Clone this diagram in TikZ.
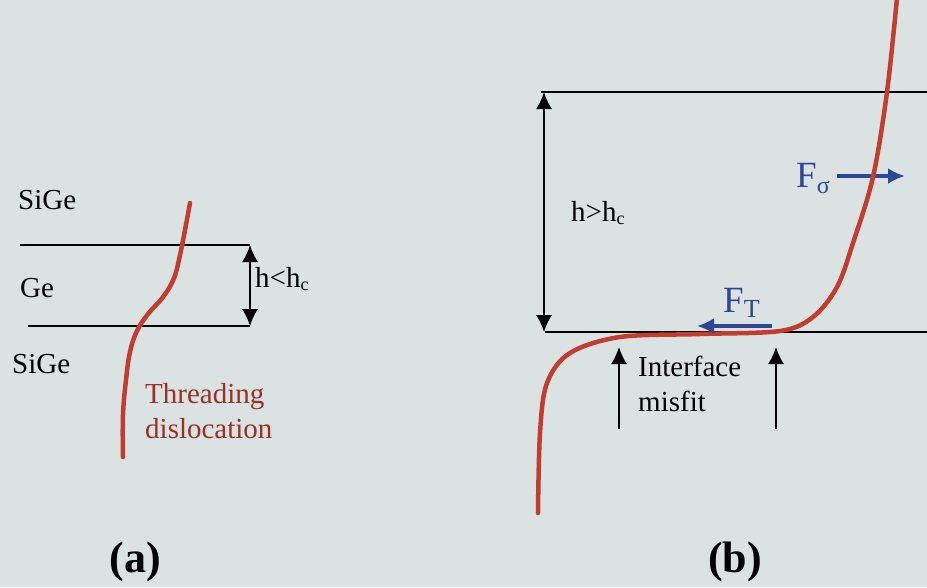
\documentclass[tikz,border=0pt]{standalone}
\usepackage{fontspec}
\setmainfont{Liberation Serif}
\usetikzlibrary{arrows.meta,positioning,calc}
\definecolor{paper}{RGB}{218,226,226}
\definecolor{disloc}{RGB}{194,60,48}
\definecolor{force}{RGB}{46,70,150}
% subscript: size, drop, text
\newcommand{\lowsub}[3]{\raisebox{-#2pt}{\fontsize{#1}{#1}\selectfont #3}}

\begin{document}
\begin{tikzpicture}[x=1pt, y=-1pt,
    lbl/.style={font=\fontsize{29}{35}\selectfont, inner sep=0pt, align=left},
    flbl/.style={font=\fontsize{37}{40}\selectfont, inner sep=0pt, text=force},
    tag/.style={font=\fontsize{44}{48}\selectfont\bfseries, inner sep=0pt},
    layer/.style={line width=1.8pt},
    dim/.style={{Latex[length=17pt,width=16pt]}-{Latex[length=17pt,width=16pt]}, line width=1.8pt},
    uparrow/.style={-{Latex[length=17pt,width=16pt]}, line width=1.8pt},
    fpush/.style={-{Latex[length=17pt,width=16pt]}, line width=4.5pt, force},
    thread/.style={line width=4.5pt, disloc, line cap=round}
]
    \fill[paper] (0,0) rectangle (927,587);
    \useasboundingbox (0,0) rectangle (927,587);

    % (a) thin Ge layer
    \coordinate (atl) at (20,245);
    \coordinate (atr) at (250,245);
    \coordinate (abl) at (28,326);
    \coordinate (abr) at (250,326);
    \draw[layer] (atl) -- (atr);
    \draw[layer] (abl) -- (abr);
    \draw[dim] (atr) -- (abr);
    \node[lbl, anchor=base west] (sigetop) at (18,209) {SiGe};
    \node[lbl, anchor=base west] (ge) at (20,297) {Ge};
    \node[lbl, anchor=base west] (sigebot) at (12,373) {SiGe};
    \node[lbl, anchor=base west] (hless) at (255,287) {h<h\lowsub{18}{3}{c}};
    \draw[thread] plot[smooth, tension=0.7] coordinates {(190,203) (185,230) (180,255) (174,278) (163,297) (148,314) (137,331) (130,352) (126,380) (123,415) (123,457)};
    \node[lbl, anchor=north west, text=disloc!80!black] (thrd) at (145,383) {Threading\\dislocation};
    \node[tag] (capa) at (135,562) {(a)};

    % (b) thick layer with misfit segment
    \coordinate (btl) at (541,92);
    \coordinate (btr) at (927,92);
    \coordinate (bbl) at (545,332);
    \coordinate (bbr) at (927,332);
    \coordinate (bdt) at (544,92);
    \coordinate (bdb) at (544,332);
    \draw[layer] (btl) -- (btr);
    \draw[layer] (bbl) -- (bbr);
    \draw[dim] (bdt) -- (bdb);
    \node[lbl, anchor=base west] (hmore) at (571,221) {h>h\lowsub{18}{3}{c}};

    \node[flbl, anchor=base west] (fsig) at (796,187) {F\lowsub{24}{6}{σ}};
    \coordinate (fsigstart) at (837,176);
    \coordinate (fsigtip) at (905,176);
    \draw[fpush] (fsigstart) -- (fsigtip);

    \draw[thread] plot[smooth, tension=0.55] coordinates {(897,-2) (887,92) (873,177) (853,243) (837,287) (813,317) (780,331) (700,334) (620,337) (570,353) (547,383) (540,433) (538,513)};

    \node[flbl, anchor=base west] (ft) at (723,312) {F\lowsub{26}{5}{T}};
    \coordinate (ftstart) at (772,326);
    \coordinate (fttip) at (697,326);
    \draw[fpush] (ftstart) -- (fttip);

    \coordinate (mleft) at (619,429);
    \coordinate (mlefttip) at (619,347);
    \coordinate (mright) at (776,429);
    \coordinate (mrighttip) at (776,347);
    \draw[uparrow] (mleft) -- (mlefttip);
    \draw[uparrow] (mright) -- (mrighttip);
    \node[lbl, anchor=north west] (misfit) at (638,356) {Interface\\misfit};
    \node[tag] (capb) at (735,562) {(b)};
\end{tikzpicture}
\end{document}
